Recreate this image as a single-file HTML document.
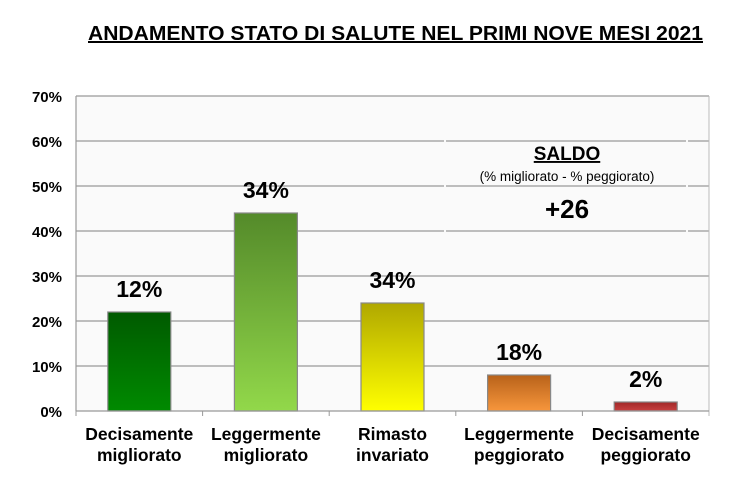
<!DOCTYPE html>
<html><head><meta charset="utf-8"><style>
body{margin:0;background:#fff;width:748px;height:475px;overflow:hidden;font-family:"Liberation Sans",sans-serif}
</style></head><body>
<svg width="748" height="475" id="c">
<defs>
<linearGradient id="g0" x1="0" y1="0" x2="0" y2="1"><stop offset="0" stop-color="#005a00"/><stop offset="1" stop-color="#008a00"/></linearGradient>
<linearGradient id="g1" x1="0" y1="0" x2="0" y2="1"><stop offset="0" stop-color="#548a2a"/><stop offset="1" stop-color="#92d84a"/></linearGradient>
<linearGradient id="g2" x1="0" y1="0" x2="0" y2="1"><stop offset="0" stop-color="#b0a800"/><stop offset="1" stop-color="#ffff00"/></linearGradient>
<linearGradient id="g3" x1="0" y1="0" x2="0" y2="1"><stop offset="0" stop-color="#b8621a"/><stop offset="1" stop-color="#f7963c"/></linearGradient>
<linearGradient id="g4" x1="0" y1="0" x2="0" y2="1"><stop offset="0" stop-color="#a02828"/><stop offset="1" stop-color="#c84040"/></linearGradient>
</defs>
<text x="88" y="40" textLength="615" lengthAdjust="spacingAndGlyphs" font-size="20" font-weight="bold" text-decoration="underline">ANDAMENTO STATO DI SALUTE NEL PRIMI NOVE MESI 2021</text>
<rect x="76" y="96" width="633" height="315" fill="#fafafa"/>
<g id="grid"></g>
<rect x="444" y="130" width="2" height="105" fill="#fafafa"/>
<rect x="686" y="130" width="2" height="105" fill="#fafafa"/>
<text x="567" y="160" text-anchor="middle" font-size="19" font-weight="bold" text-decoration="underline">SALDO</text>
<text x="567" y="181" text-anchor="middle" font-size="13.5">(% migliorato  -  % peggiorato)</text>
<text x="567" y="218" text-anchor="middle" font-size="26" font-weight="bold">+26</text>
<g id="bars"></g>
<line x1="709" y1="96" x2="709" y2="416" stroke="#bbb" stroke-width="1"/>
<line x1="76" y1="96" x2="76" y2="411" stroke="#999" stroke-width="1.2"/>
<line x1="76" y1="411" x2="709" y2="411" stroke="#999" stroke-width="1.2"/>
</svg>
<script>
const categories=[["Decisamente","migliorato"],["Leggermente","migliorato"],["Rimasto","invariato"],["Leggermente","peggiorato"],["Decisamente","peggiorato"]];
const values=[22,44,24,8,2];
const printedLabels=["12%","34%","34%","18%","2%"];
const yTicks=[0,10,20,30,40,50,60,70];
const NS="http://www.w3.org/2000/svg";
const x0=76,x1=709,y0=411,y1=96,maxV=70;
const y=v=>y0-(v/maxV)*(y0-y1);
const band=(x1-x0)/categories.length;
const grid=document.getElementById('grid'),bars=document.getElementById('bars');
function mk(t,a){const e=document.createElementNS(NS,t);for(const k in a)e.setAttribute(k,a[k]);return e;}
yTicks.forEach(t=>{
 const l=mk('line',{x1:x0,x2:x1,y1:y(t),y2:y(t),stroke:'#999','stroke-width':1.2});
 
 
 if(t>0)grid.appendChild(l);
 const tx=mk('text',{x:62,y:y(t)+6,'text-anchor':'end','font-size':15,'font-weight':'bold'});
 tx.textContent=t+'%';
 
 
 grid.appendChild(tx);
});
for(let i=0;i<=categories.length;i++){
 const tk=mk('line',{x1:x0+i*band,x2:x0+i*band,y1:y0,y2:y0+5,stroke:'#999'});
 
 
 bars.appendChild(tk);
}
categories.forEach((c,i)=>{
 const cx=x0+band*(i+0.5),w=63;
 const r=mk('rect',{x:cx-w/2,y:y(values[i]),width:w,height:y0-y(values[i]),fill:`url(#g${i})`,stroke:'#888','stroke-width':1.2});
 
 
 bars.appendChild(r);
 const lb=mk('text',{x:cx,y:y(values[i])-15,'text-anchor':'middle','font-size':23,'font-weight':'bold'});
 lb.textContent=printedLabels[i];
 
 
 bars.appendChild(lb);
 c.forEach((s,j)=>{
  const t=mk('text',{x:cx,y:440+j*21,'text-anchor':'middle','font-size':17.5,'font-weight':'bold'});
  t.textContent=s;
  
  
  bars.appendChild(t);
 });
});
</script>
</body></html>
